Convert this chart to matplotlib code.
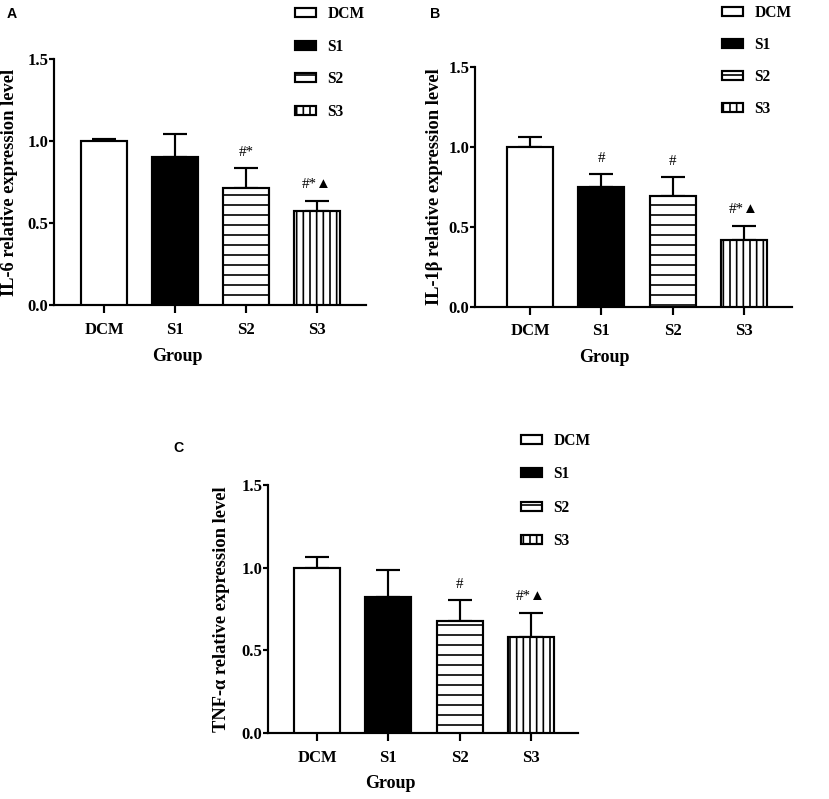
import matplotlib
matplotlib.use("Agg")
import matplotlib.pyplot as plt
import numpy as np

# ---------------- data ----------------
groups = ["DCM", "S1", "S2", "S3"]

il6_mean = [1.00, 0.90, 0.715, 0.575]
il6_err = [0.01, 0.14, 0.12, 0.062]
il6_sig = ["", "", "#*", "#*\u25B2"]

il1b_mean = [1.00, 0.75, 0.69, 0.42]
il1b_err = [0.06, 0.077, 0.118, 0.087]
il1b_sig = ["", "#", "#", "#*\u25B2"]

tnf_mean = [1.00, 0.82, 0.677, 0.578]
tnf_err = [0.066, 0.167, 0.126, 0.15]
tnf_sig = ["", "", "#", "#*\u25B2"]

yticks = [0.0, 0.5, 1.0, 1.5]
ytick_labels = ["0.0", "0.5", "1.0", "1.5"]

# ---------------- style ----------------
W, H = 829, 799
DPI = 120
SERIF = "Liberation Serif"
SANS = "Liberation Sans"
plt.rcParams["hatch.linewidth"] = 1.0

fig = plt.figure(figsize=(W / DPI, H / DPI), dpi=DPI)

facecolors = ["white", "black", "white", "white"]
hatches = ["", "", "--", "|||"]


def px_axes(left, right, top, bottom):
    return fig.add_axes([left / W, 1 - bottom / H, (right - left) / W, (bottom - top) / H])


def panel(ax, means, errs, sigs, ylabel, xlim, bw, ylab_x, xlab_pos, leg_xy, lspace,
          letter, letter_xy):
    x = np.arange(len(groups))
    bars = []
    for i in range(len(groups)):
        b = ax.bar(x[i], means[i], width=bw, color=facecolors[i], edgecolor="black",
                   linewidth=1.3, hatch=hatches[i], zorder=3, label=groups[i])
        bars.append(b)
    ax.errorbar(x, means, yerr=[np.zeros(len(errs)), errs], fmt="none", ecolor="black",
                elinewidth=1.3, capsize=7, capthick=1.3, zorder=2)
    for i, s in enumerate(sigs):
        if s:
            ax.annotate(s, (x[i], means[i] + errs[i]), xytext=(0, 9.5), textcoords="offset points",
                        ha="center", va="center", fontsize=9,
                        family=[SERIF, "DejaVu Sans"])
    ax.set_xlim(*xlim)
    ax.set_ylim(0, 1.5)
    ax.set_yticks(yticks)
    ax.set_yticklabels(ytick_labels)
    ax.set_xticks(x)
    ax.set_xticklabels(groups)
    for sp in ["top", "right"]:
        ax.spines[sp].set_visible(False)
    for sp in ["left", "bottom"]:
        ax.spines[sp].set_linewidth(1.3)
    ax.tick_params(axis="y", length=3, width=1.3, pad=0.5)
    ax.tick_params(axis="x", length=5, width=1.3, pad=5)
    for lab in ax.get_xticklabels() + ax.get_yticklabels():
        lab.set_fontfamily(SERIF)
        lab.set_fontweight("bold")
        lab.set_fontsize(10)
    ax.set_ylabel(ylabel, family=SERIF, fontweight="bold", fontsize=11.1)
    ax.yaxis.set_label_coords(ylab_x, 0.5)
    ax.set_xlabel("Group", family=SERIF, fontweight="bold", fontsize=10.8)
    ax.xaxis.set_label_coords(*xlab_pos)
    ax.xaxis.label.set_va("center")
    ax.legend(handles=bars, labels=groups, loc="upper left",
              bbox_to_anchor=(leg_xy[0] / W, 1 - leg_xy[1] / H),
              bbox_transform=fig.transFigure, frameon=False, borderpad=0,
              borderaxespad=0, handlelength=1.35, handleheight=0.5,
              handletextpad=0.75, labelspacing=lspace,
              prop={"family": SERIF, "weight": "bold", "size": 9.3})
    fig.text(letter_xy[0] / W, 1 - letter_xy[1] / H, letter, family=SANS, fontweight="bold",
             fontsize=8.5, ha="center", va="center")


axA = px_axes(54, 366, 59, 305)
panel(axA, il6_mean, il6_err, il6_sig, "IL-6 relative expression level",
      (-0.704, 3.69), 0.65, -0.115, (0.394, -0.211), (295, 6), 1.07, "A", (12, 14))

axB = px_axes(475, 792, 66.7, 306.7)
panel(axB, il1b_mean, il1b_err, il1b_sig, "IL-1\u03b2 relative expression level",
      (-0.771, 3.673), 0.645, -0.101, (0.407, -0.21), (722, 5), 1.03, "B", (435, 14))

axC = px_axes(268, 578, 485, 733)
panel(axC, tnf_mean, tnf_err, tnf_sig, "TNF-\u03b1 relative expression level",
      (-0.687, 3.66), 0.645, -0.123, (0.394, -0.202), (521, 433), 1.12, "C", (178, 448))

fig.savefig("out.png", dpi=DPI)
